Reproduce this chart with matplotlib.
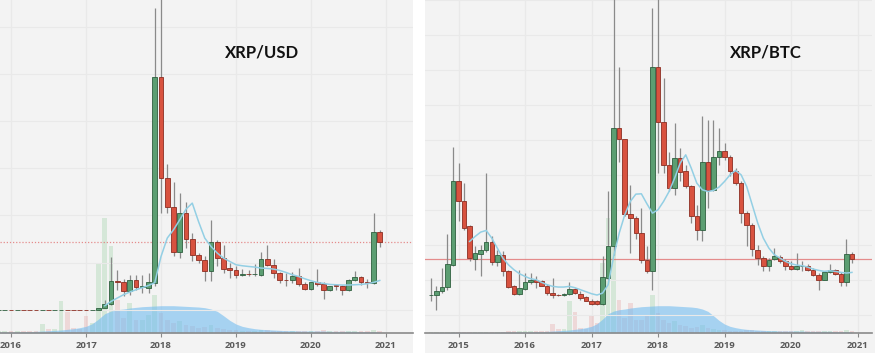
import matplotlib
matplotlib.use("Agg")
import matplotlib.pyplot as plt
from matplotlib.patches import Rectangle
import numpy as np

# ---------------- DATA ----------------
# XRP/USD monthly candles, 2015-11 .. 2020-12
usd_start = (2015, 11)
usd_open = [0.0042, 0.0044, 0.0060, 0.0056, 0.0085, 0.0082, 0.0072, 0.0062, 0.0064, 0.0060, 0.0062, 0.0094, 0.0082, 0.0080, 0.0065, 0.0063,
            0.0065, 0.027, 0.070, 0.293, 0.287, 0.193, 0.31, 0.237, 0.227, 0.277,
            2.337, 1.327, 1.043, 0.587, 0.977, 0.72, 0.553, 0.51, 0.393, 0.683, 0.527, 0.427,
            0.41, 0.36, 0.367, 0.363, 0.36, 0.517, 0.46, 0.377, 0.31, 0.303, 0.35, 0.27,
            0.22, 0.287, 0.267, 0.21, 0.253, 0.243, 0.203, 0.31, 0.337, 0.287, 0.277, 0.787]
usd_high = [0.0046, 0.0065, 0.0065, 0.0090, 0.0100, 0.0090, 0.0075, 0.0070, 0.0068, 0.0068, 0.0110, 0.0099, 0.0090, 0.0085, 0.0075, 0.0070,
            0.030, 0.11, 0.537, 0.41, 0.317, 0.36, 0.36, 0.36, 0.377, 3.027,
            3.84, 1.47, 1.293, 1.177, 1.093, 0.777, 0.577, 0.543, 0.91, 0.71, 0.66, 0.477,
            0.443, 0.417, 0.41, 0.467, 0.583, 0.66, 0.52, 0.39, 0.377, 0.383, 0.427, 0.283,
            0.29, 0.417, 0.283, 0.247, 0.27, 0.26, 0.313, 0.393, 0.35, 0.32, 0.977, 0.81]
usd_low = [0.0038, 0.0043, 0.0054, 0.0055, 0.0075, 0.0070, 0.0055, 0.0055, 0.0055, 0.0055, 0.0060, 0.0080, 0.0078, 0.0063, 0.0060, 0.0058,
           0.0055, 0.025, 0.060, 0.21, 0.143, 0.16, 0.21, 0.177, 0.177, 0.243,
           0.977, 0.977, 0.543, 0.527, 0.627, 0.493, 0.477, 0.293, 0.293, 0.443, 0.377, 0.327,
           0.327, 0.343, 0.35, 0.343, 0.343, 0.443, 0.327, 0.277, 0.243, 0.277, 0.243, 0.21,
           0.21, 0.25, 0.117, 0.193, 0.21, 0.16, 0.193, 0.293, 0.26, 0.227, 0.27, 0.633]
usd_close = [0.0044, 0.0060, 0.0056, 0.0085, 0.0082, 0.0072, 0.0062, 0.0064, 0.0060, 0.0062, 0.0094, 0.0082, 0.0080, 0.0065, 0.0063, 0.0065,
             0.027, 0.070, 0.293, 0.287, 0.193, 0.31, 0.237, 0.243, 0.283, 2.343,
             1.327, 1.043, 0.587, 0.977, 0.72, 0.553, 0.51, 0.393, 0.683, 0.527, 0.417, 0.41,
             0.36, 0.367, 0.363, 0.367, 0.517, 0.46, 0.377, 0.303, 0.303, 0.35, 0.27, 0.22,
             0.287, 0.267, 0.21, 0.25, 0.243, 0.203, 0.31, 0.337, 0.287, 0.277, 0.787, 0.687]
# moving average (light blue line), 2017-04 .. 2020-12
usd_ma_start = (2017, 4)
usd_ma = [0.05, 0.093, 0.127, 0.16, 0.187, 0.21, 0.23, 0.253, 0.28,
          0.543, 0.727, 0.81, 0.91, 1.017, 1.077, 0.893, 0.727, 0.643, 0.577, 0.527, 0.493,
          0.46, 0.45, 0.443, 0.437, 0.427, 0.423, 0.417, 0.403, 0.383, 0.36, 0.343, 0.32,
          0.30, 0.283, 0.273, 0.263, 0.26, 0.257, 0.257, 0.26, 0.263, 0.27, 0.283, 0.303]
usd_last = 0.69

# XRP/BTC monthly candles (satoshi), 2014-08 .. 2020-12
btc_start = (2014, 8)
btc_open = [2875, 2875, 3175, 3425, 5125,
            11375, 9875, 8000, 5550, 5950, 6200, 6800, 5300, 5825, 4625, 3500, 2950,
            3325, 3800, 3950, 3875, 3550, 3000, 2850, 2840, 2950, 3300, 2950, 2675,
            2425, 2375, 2175, 4125, 6500, 15375, 14550, 8950, 8625, 7500, 5500, 4625,
            20000, 15875, 12625, 10875, 13175, 12125, 11000, 8800, 7700, 12875, 10750, 13250,
            13675, 13200, 12125, 11250, 9000, 8125, 6250, 5625, 5000, 5550, 5700, 5425,
            5000, 4825, 5000, 5050, 4750, 4375, 4000, 4550, 4700, 4450, 3800, 5950]
btc_high = [4125, 3500, 4875, 7450, 13950,
            12750, 11250, 8125, 6500, 6625, 12000, 7250, 6250, 6125, 4750, 3625, 4750,
            4500, 4500, 4300, 4000, 3700, 4125, 2950, 3000, 3800, 3400, 3125, 2800,
            2550, 2500, 5750, 10625, 26000, 20000, 14600, 11125, 8750, 9375, 6500, 24375,
            26500, 19125, 13625, 15750, 13875, 12625, 11125, 9625, 16300, 16000, 16000, 15375,
            14250, 13375, 12375, 11375, 9125, 8250, 6625, 5750, 5625, 6375, 5875, 5550,
            5375, 6000, 5375, 5200, 4875, 4500, 4625, 5200, 4800, 4550, 7050, 6050]
btc_low = [2375, 1750, 3000, 3250, 5000,
           8375, 7750, 5375, 4750, 4250, 6050, 5125, 5000, 4250, 3375, 2875, 2875,
           3250, 3700, 3375, 3500, 2875, 2625, 2750, 2750, 2875, 2950, 2500, 2375,
           2125, 2125, 2125, 4000, 5875, 12875, 8750, 6000, 7050, 5250, 4500, 3250,
           12000, 12000, 10625, 10375, 11375, 10875, 8250, 7000, 6875, 9375, 10625, 12625,
           13000, 11750, 11125, 8250, 6500, 5750, 5125, 4625, 4625, 5500, 5250, 4750,
           4750, 4750, 4625, 4625, 4250, 3250, 3950, 4500, 4375, 3550, 3550, 5250]
btc_close = [2880, 3125, 3425, 5200, 11375,
             9875, 7875, 5625, 6000, 6200, 6800, 5300, 5825, 4625, 3450, 2950, 3375,
             3800, 3950, 3850, 3550, 3000, 2850, 2840, 2900, 3325, 3000, 2625, 2425,
             2200, 2175, 4175, 6500, 15375, 14550, 8950, 8625, 7500, 5500, 4625, 20000,
             15875, 12625, 10875, 13175, 12050, 11000, 8800, 7700, 12875, 10750, 13250, 13675,
             13200, 12125, 11250, 9000, 8125, 6300, 5625, 5000, 5500, 5750, 5375, 5000,
             4825, 5000, 5050, 4750, 4375, 4000, 4550, 4700, 4450, 3800, 5950, 5550]
btc_ma_start = (2015, 3)
btc_ma = [6875, 7250, 7575, 7700, 7125, 6375, 5625, 5125, 4750, 4450,
          4250, 4075, 4000, 3800, 3625, 3500, 3450, 3450, 3500, 3400, 3250, 3100,
          2950, 2850, 3000, 3625, 5750, 7500, 8875, 9875, 10425, 10450, 9700, 9000,
          9250, 9875, 10625, 11625, 12750, 13375, 12375, 11250, 10750, 10625, 10700, 10950,
          11375, 11875, 12200, 11875, 11000, 9625, 8250, 7125, 6375, 5875, 5625, 5375,
          5200, 5100, 5050, 4950, 4800, 4700, 4625, 4675, 4625, 4550, 4500, 4550]
btc_last = 5550

# traded volume (arbitrary units), 2014-08 .. 2020-12 (shared by both panels)
vol_start = (2014, 8)
vol_bars = [2, 2, 2, 3, 4,
            3, 3, 3, 3, 3, 3, 3, 4, 4, 5, 5, 5,
            5, 6, 6, 5, 6, 28, 12, 12, 96, 62, 15, 12,
            52, 30, 210, 345, 260, 100, 45, 90, 40, 40, 55, 115,
            60, 40, 30, 35, 25, 20, 15, 18, 25, 15, 12, 10,
            8, 6, 6, 6, 8, 8, 6, 5, 5, 5, 5, 5,
            5, 5, 8, 5, 5, 5, 5, 6, 5, 5, 8, 5]
vol_area = [1, 1, 1, 1, 2,
            2, 2, 2, 2, 2, 2, 2, 2, 3, 3, 3, 3,
            3, 3, 4, 4, 5, 6, 7, 8, 9, 11, 13, 16,
            20, 28, 42, 58, 66, 70, 72, 75, 77, 79, 80, 81,
            82, 82, 82, 81, 80, 79, 78, 76, 72, 65, 52, 38,
            27, 20, 16, 13, 11, 10, 9, 8, 7, 7, 6, 6,
            6, 6, 6, 5, 5, 5, 5, 5, 4, 4, 4, 3]

usd_years = [2016, 2017, 2018, 2019, 2020, 2021]
btc_years = [2015, 2016, 2017, 2018, 2019, 2020, 2021]
titles = ["XRP/USD", "XRP/BTC"]

# ---------------- STYLE ----------------
BG = "#f3f3f3"
GREEN, GREEN_E = "#5c9e72", "#2f5f3f"
RED, RED_E = "#d8523f", "#8c2e22"
WICK = "#8a8a8a"
MA_C = "#93cfe4"
AREA_C = "#74bdf0"
GRID = "#e9e9e9"

W, H = 875, 353
fig = plt.figure(figsize=(W / 100, H / 100), dpi=100, facecolor="white")


def months_x(start, n):
    y, m = start
    return np.array([y + (m - 1 + i) / 12.0 for i in range(n)])


def axes_px(x0, x1, ytop, ybot):
    return fig.add_axes([x0 / W, (H - ybot) / H, (x1 - x0) / W, (ybot - ytop) / H])


def panel(px, years, xlim, ylim, grid_y, o, h, l, c, start, ma, ma_start, last, last_ls,
          body_w, title, title_xy):
    x0, x1, xa = px
    fig.patches.append(Rectangle((x0 / W, 0), (x1 - x0) / W, 1, transform=fig.transFigure,
                                 facecolor=BG, edgecolor="none", zorder=-10))
    axv = axes_px(x0, xa, 0, 333)
    ax = axv.twinx()
    ax.set_zorder(axv.get_zorder() + 1)
    ax.patch.set_visible(False)
    axv.set_facecolor(BG)

    n = len(o)
    x = months_x(start, n)
    o, h, l, c = map(np.asarray, (o, h, l, c))
    up = c >= o

    # volume
    vx = months_x(vol_start, len(vol_bars))
    vb = np.asarray(vol_bars, float)
    va = np.asarray(vol_area, float)
    vcol = []
    for xi in vx:
        k = np.argmin(np.abs(x - xi))
        if abs(x[k] - xi) < 0.01:
            vcol.append("#6cc07a" if up[k] else "#e07b7b")
        else:
            vcol.append("#6cc07a")
    axv.bar(vx, vb, width=body_w, color=vcol, alpha=0.22, linewidth=0, zorder=1)
    axv.fill_between(vx, 0, va, color=AREA_C, alpha=0.6, linewidth=0, zorder=2)
    axv.set_ylim(0, 1000)
    axv.set_yticks([])
    for yr in years:
        axv.axvline(yr, color=GRID, lw=0.9, zorder=0)

    # horizontal grid
    for gy in grid_y:
        ax.axhline(gy, color=GRID, lw=0.8, zorder=0.5)

    # last price line
    ax.axhline(last, color="#e06a6a", lw=0.9, ls=last_ls, alpha=0.75, zorder=2.5)
    # candles
    ax.vlines(x, l, h, color=WICK, lw=0.9, zorder=3)
    bottoms = np.minimum(o, c)
    heights = np.abs(c - o)
    ax.bar(x, heights, bottom=bottoms, width=body_w,
           color=np.where(up, GREEN, RED), edgecolor=np.where(up, GREEN_E, RED_E),
           linewidth=0.6, zorder=4)
    # moving average
    ax.plot(months_x(ma_start, len(ma)), ma, color=MA_C, lw=1.1, zorder=5)

    ax.set_yticks([])
    axv.set_xticks(years)
    axv.set_xticklabels([str(t) for t in years], fontfamily="Open Sans",
                        fontweight="bold", fontsize=6.8, color="#5a5a5a")
    axv.tick_params(axis="x", length=3, width=0.8, color="#8a8a8a", pad=3)
    axv.set_xlim(*xlim)
    ax.set_xlim(*xlim)
    ax.set_ylim(*ylim)
    for a in (ax, axv):
        for s in ("top", "left", "right"):
            a.spines[s].set_visible(False)
    ax.spines["bottom"].set_visible(False)
    axv.spines["bottom"].set_color("#8a8a8a")
    axv.spines["bottom"].set_linewidth(1.2)
    fig.text(title_xy[0] / W, 1 - title_xy[1] / H, title, fontfamily="Lato",
             fontweight="bold", fontsize=12, color="#111111", ha="center", va="center")


# left: XRP/USD
panel((0, 413, 413), usd_years, (2015.853, 2021.36), (-0.223, 3.11),
      [0.01 + 0.4717 * k for k in range(7)],
      usd_open, usd_high, usd_low, usd_close, usd_start, usd_ma, usd_ma_start,
      usd_last, (0, (1, 1.5)), 0.062, titles[0], (262, 52))
# right: XRP/BTC
panel((425, 875, 872), btc_years, (2014.496, 2021.218), (0, 25000),
      [1375 + 2625 * k for k in range(10)],
      btc_open, btc_high, btc_low, btc_close, btc_start, btc_ma, btc_ma_start,
      btc_last, "-", 0.068, titles[1], (766, 52))

fig.savefig("out.png", dpi=100, facecolor="white")
